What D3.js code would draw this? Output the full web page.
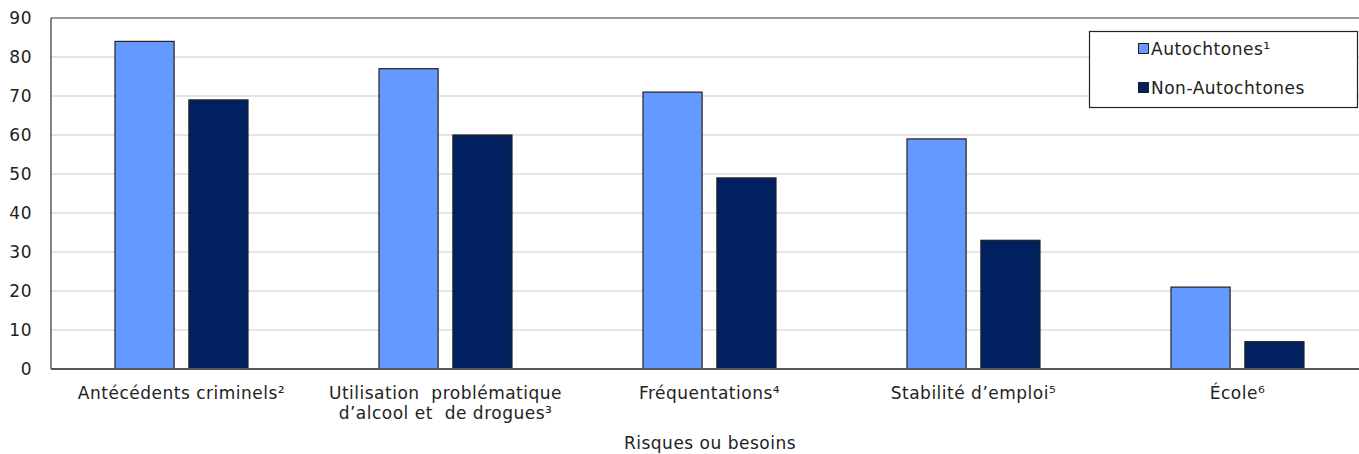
<!DOCTYPE html>
<html><head><meta charset="utf-8">
<script src="https://cdn.jsdelivr.net/npm/d3@7"></script>
<style>body{margin:0;background:#fff;}svg{display:block;font-family:"DejaVu Sans",Verdana,sans-serif;}text{letter-spacing:0.5px;}</style>
</head><body>
<svg id="c" width="1359" height="454"></svg>
<script>
const categories = [["Antécédents criminels²"], ["Utilisation  problématique", "d’alcool et  de drogues³"], ["Fréquentations⁴"], ["Stabilité d’emploi⁵"], ["École⁶"]];
const seriesNames = ["Autochtones¹", "Non-Autochtones"];
const autochtones = [84, 77, 71, 59, 21];
const nonAutochtones = [69, 60, 49, 33, 7];
const yTicks = [0, 10, 20, 30, 40, 50, 60, 70, 80, 90];
const colors = ["#6699FF", "#002060"];
const xTitle = "Risques ou besoins";

(function () {
const svg = d3.select("#c");
const fs = 17;
const mLeft = 51, mTop = 18, mBottom = 369, mRight = 1371;
const x = d3.scaleBand().domain(d3.range(categories.length)).range([49.5, 1369.5]);
const y = d3.scaleLinear().domain([0, 90]).range([mBottom, mTop]);
const x1 = d3.scaleBand().domain([0, 1]).range([-66.5, 66.5]).paddingInner(0.2);

// gridlines
svg.append("g").selectAll("line").data(yTicks.filter(d => d > 0 && d < 90)).join("line")
  .attr("x1", mLeft).attr("x2", mRight).attr("y1", d => y(d)).attr("y2", d => y(d))
  .attr("stroke", "#dcdcdc").attr("stroke-width", 1.5);

// frame
svg.append("line").attr("x1", mLeft).attr("x2", mRight).attr("y1", mTop).attr("y2", mTop).attr("stroke", "#333").attr("stroke-width", 1.2);
svg.append("line").attr("x1", mLeft).attr("x2", mLeft).attr("y1", mTop).attr("y2", mBottom).attr("stroke", "#333").attr("stroke-width", 1.2);

// y axis labels
const yAxis = d3.axisLeft(y).tickValues(yTicks).tickSize(0).tickPadding(19);
const ya = svg.append("g").attr("transform", `translate(${mLeft},0)`).call(yAxis);
ya.select(".domain").remove();
ya.selectAll("text").attr("font-size", fs).attr("fill", "#222").attr("font-family", "DejaVu Sans, Verdana, sans-serif");

// bars
const data = [autochtones, nonAutochtones];
data.forEach((vals, s) => {
  svg.append("g").selectAll("rect").data(vals).join("rect")
    .attr("x", (d, i) => x(i) + x.bandwidth() / 2 + x1(s))
    .attr("width", x1.bandwidth())
    .attr("y", d => y(d))
    .attr("height", d => y(0) - y(d))
    .attr("fill", colors[s]).attr("stroke", "#222").attr("stroke-width", 1.2);
});

// bottom axis line
svg.append("line").attr("x1", mLeft).attr("x2", mRight).attr("y1", mBottom).attr("y2", mBottom).attr("stroke", "#555").attr("stroke-width", 2);

// x labels
const xl = svg.append("g");
categories.forEach((lines, i) => {
  const cx = x(i) + x.bandwidth() / 2;
  const t = xl.append("text").attr("text-anchor", "middle").attr("font-size", fs).attr("fill", "#222")
    .attr("x", cx).attr("y", 399).attr("xml:space", "preserve");
  lines.forEach((l, j) => t.append("tspan").attr("x", cx).attr("dy", j ? 20 : 0).text(l));
});
svg.append("text").attr("x", 710).attr("y", 449).attr("text-anchor", "middle").attr("font-size", fs).attr("fill", "#222").text(xTitle);

// legend
const lg = svg.append("g");
lg.append("rect").attr("x", 1089.5).attr("y", 31.5).attr("width", 268).attr("height", 76).attr("fill", "#fff").attr("stroke", "#222").attr("stroke-width", 1.2);
seriesNames.forEach((n, i) => {
  const yy = 49 + i * 39;
  lg.append("rect").attr("x", 1138.5).attr("y", yy - 5.5).attr("width", 10).attr("height", 10).attr("fill", colors[i]).attr("stroke", "#222").attr("stroke-width", 1);
  lg.append("text").attr("x", 1151).attr("y", yy + 6).attr("font-size", fs).attr("fill", "#222").text(n);
});
})();
</script>
</body></html>
